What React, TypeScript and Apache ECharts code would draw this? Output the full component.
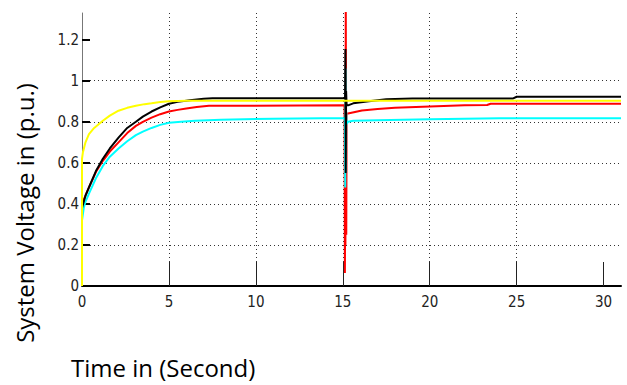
import React, { useEffect, useRef } from "react";
import * as echarts from "echarts";

const xTicks = [0, 5, 10, 15, 20, 25, 30];
const yTicks = [0, 0.2, 0.4, 0.6, 0.8, 1, 1.2];

const redData: [number, number][] = [
  [0, 0.4], [0.2, 0.44], [0.4, 0.48], [0.8, 0.555], [1.2, 0.61], [1.6, 0.655], [2.1, 0.7], [2.6, 0.745], [3.1, 0.78],
  [3.5, 0.8], [4, 0.82], [4.5, 0.837], [5, 0.85], [5.5, 0.858], [6, 0.865], [6.6, 0.872], [7.3, 0.878], [15.1, 0.88],
  [15.11, 0.5], [15.12, 0.063], [15.14, 0.45], [15.15, 0.2], [15.17, 1.45], [15.19, 0.5], [15.2, 0.25], [15.22, 0.84],
  [15.3, 0.84], [16.1, 0.855], [17, 0.862], [18, 0.868], [20, 0.874], [22, 0.88], [23.3, 0.882], [23.5, 0.888], [31, 0.888],
];

const cyanData: [number, number][] = [
  [0, 0.32], [0.1, 0.38], [0.2, 0.41], [0.4, 0.45], [0.8, 0.525], [1.2, 0.585], [1.6, 0.63], [2.1, 0.67], [2.6, 0.705],
  [3.1, 0.735], [3.5, 0.752], [4, 0.77], [4.5, 0.785], [5, 0.795], [5.7, 0.8], [6.5, 0.805], [8, 0.81], [11, 0.815], [15.1, 0.818],
  [15.12, 0.8], [15.14, 0.48], [15.16, 1.06], [15.18, 0.55], [15.2, 0.85], [15.22, 0.79],
  [15.3, 0.8], [15.6, 0.805], [17, 0.808], [20, 0.812], [22, 0.815], [24, 0.817], [31, 0.817],
];

const blackData: [number, number][] = [
  [0, 0.38], [0.2, 0.44], [0.4, 0.48], [0.8, 0.56], [1.2, 0.62], [1.6, 0.67], [2.1, 0.723], [2.6, 0.77], [3.1, 0.8],
  [3.5, 0.825], [4, 0.85], [4.5, 0.87], [5, 0.888], [5.5, 0.897], [6.2, 0.905], [7, 0.912], [7.5, 0.915], [15.13, 0.915],
  [15.15, 1.155], [15.17, 0.55], [15.19, 0.95], [15.22, 0.88],
  [15.3, 0.88], [15.6, 0.89], [16.5, 0.9], [17.5, 0.91], [19, 0.914], [24.8, 0.914], [25, 0.922], [31, 0.922],
];

const yellowData: [number, number][] = [
  [0, 0], [0, 0.62], [0.05, 0.65], [0.2, 0.7], [0.4, 0.74], [0.7, 0.77], [1.2, 0.805], [1.6, 0.83], [2.1, 0.854],
  [2.6, 0.868], [3.1, 0.878], [3.6, 0.886], [4, 0.89], [4.5, 0.896], [5, 0.9], [6, 0.903], [31, 0.903],
];

const tickFont = "'Liberation Sans Narrow', 'DejaVu Sans Condensed', 'Liberation Sans', sans-serif";
const titleFont = "'Open Sans', 'Noto Sans', sans-serif";

export default function App() {
  const ref = useRef<HTMLDivElement>(null);
  useEffect(() => {
    if (!ref.current) return;
    const chart = echarts.init(ref.current, null, { renderer: "svg" });
    const line = (data: [number, number][], color: string, width = 2) => ({
      type: "line",
      data,
      showSymbol: false,
      symbol: "none",
      lineStyle: { color, width },
      clip: true,
    });
    chart.setOption({
      animation: false,
      backgroundColor: "#ffffff",
      grid: { left: 82, right: 6, top: 13, bottom: 99, containLabel: false },
      xAxis: {
        type: "value",
        min: 0,
        max: 31,
        interval: 5,
        axisLine: { show: true, lineStyle: { color: "#000", width: 2 } },
        axisTick: { show: true, inside: true, length: 24, customValues: xTicks, lineStyle: { color: "#222", width: 1 } },
        axisLabel: { customValues: xTicks, fontFamily: tickFont, fontSize: 15, color: "#222", margin: 8 },
        splitLine: { show: true, showMinLine: false, showMaxLine: false, lineStyle: { color: "#333", type: [1, 3], width: 1 } },
      },
      yAxis: {
        type: "value",
        min: 0,
        max: 1.33,
        interval: 0.2,
        axisLine: { show: true, lineStyle: { color: "#777", width: 1 } },
        axisTick: { show: true, inside: true, length: 8, customValues: yTicks, lineStyle: { color: "#000", width: 2 } },
        axisLabel: { customValues: yTicks, fontFamily: tickFont, fontSize: 15, color: "#222", margin: 3 },
        splitLine: { show: true, showMinLine: false, showMaxLine: false, lineStyle: { color: "#333", type: [1, 3], width: 1 } },
      },
      graphic: [
        {
          type: "text",
          x: 24,
          y: 213,
          rotation: Math.PI / 2,
          style: { text: "System Voltage in (p.u.)", font: `24px ${titleFont}`, fill: "#000", align: "center", verticalAlign: "middle" },
        },
        {
          type: "text",
          x: 71,
          y: 367,
          style: { text: "Time in (Second)", font: `24px ${titleFont}`, fill: "#000", align: "left", verticalAlign: "middle" },
        },
      ],
      series: [
        line(redData, "#ff0000"),
        line(cyanData, "#00ffff"),
        line(blackData, "#000000"),
        line(yellowData, "#ffff00"),
      ],
    });
    return () => chart.dispose();
  }, []);
  return <div ref={ref} style={{ position: "fixed", left: 0, top: 0, width: 627, height: 385, background: "#fff" }} />;
}
